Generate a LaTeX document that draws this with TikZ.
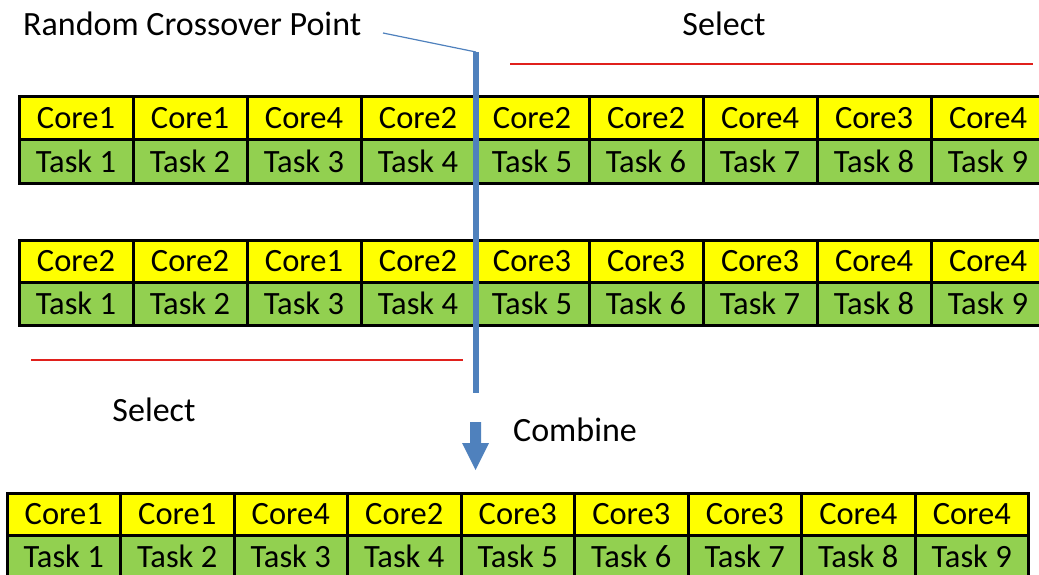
\documentclass[tikz,border=0pt]{standalone}
\usepackage{fontspec}
\setmainfont{Carlito}
\definecolor{taskgreen}{HTML}{92D050}
\definecolor{coreyellow}{HTML}{FFFF00}
\definecolor{cutblue}{HTML}{4F81BD}
\definecolor{selred}{HTML}{E0201C}
\tikzset{
  cell/.style={draw=black, line width=3pt, inner sep=0pt, outer sep=0pt,
    anchor=north west, minimum width=114pt, minimum height=43pt,
    font=\fontsize{32.5}{38}\selectfont, text height=21pt, text depth=0pt},
  corecell/.style={cell, fill=coreyellow},
  taskcell/.style={cell, fill=taskgreen},
  label/.style={font=\fontsize{34}{40}\selectfont, inner sep=0pt},
  selline/.style={draw=selred, line width=1.2pt},
  cutline/.style={draw=cutblue, line width=6pt},
  pointer/.style={draw=cutblue, line width=1.2pt}
}
\begin{document}
\begin{tikzpicture}[x=1pt,y=-1pt]
\useasboundingbox (0,0) rectangle (1039,575);
\clip (0,0) rectangle (1039,575);
\fill[white] (0,0) rectangle (1039,575);

% first parent chromosome
\foreach \c [count=\i] in {Core1,Core1,Core4,Core2,Core2,Core2,Core4,Core3,Core4}
  \node[corecell] (pa-c\i) at ({19+(\i-1)*114},97) {\c};
\foreach \i in {1,...,9}
  \node[taskcell] (pa-t\i) at ({19+(\i-1)*114},140) {Task \i};

% second parent chromosome
\foreach \c [count=\i] in {Core2,Core2,Core1,Core2,Core3,Core3,Core3,Core4,Core4}
  \node[corecell, minimum height=42.5pt] (pb-c\i) at ({19+(\i-1)*114},240) {\c};
\foreach \i in {1,...,9}
  \node[taskcell, minimum height=43pt] (pb-t\i) at ({19+(\i-1)*114},282.5) {Task \i};

% offspring
\foreach \c [count=\i] in {Core1,Core1,Core4,Core2,Core3,Core3,Core3,Core4,Core4}
  \node[corecell, minimum width=113.5pt, minimum height=42pt] (ch-c\i) at ({7+(\i-1)*113.5},493) {\c};
\foreach \i in {1,...,9}
  \node[taskcell, minimum width=113.5pt, minimum height=43pt] (ch-t\i) at ({7+(\i-1)*113.5},535) {Task \i};

% labels
\node[label, anchor=base west] (rcp) at (23,36) {Random Crossover Point};
\node[label, anchor=base] (sel1) at (724,36) {Select};
\node[label, anchor=base] (sel2) at (154,421) {Select};
\node[label, anchor=base west] (comb) at (513,441) {Combine};

% selection marks
\coordinate (s1a) at (510,64);
\coordinate (s1b) at (1033,64);
\coordinate (s2a) at (31,360);
\coordinate (s2b) at (463,360);
\draw[selline] (s1a) -- (s1b);
\draw[selline] (s2a) -- (s2b);

% crossover cut
\coordinate (cuttop) at (476,52);
\coordinate (cutbot) at (476,393);
\coordinate (ptr) at (383,33);
\draw[pointer] (ptr) -- (cuttop);
\draw[cutline] (cuttop) -- (cutbot);

% combine arrow
\fill[cutblue] (470,422) -- (481,422) -- (481,443) -- (489,443) -- (475.5,470)
  -- (462,443) -- (470,443) -- cycle;
\end{tikzpicture}
\end{document}
